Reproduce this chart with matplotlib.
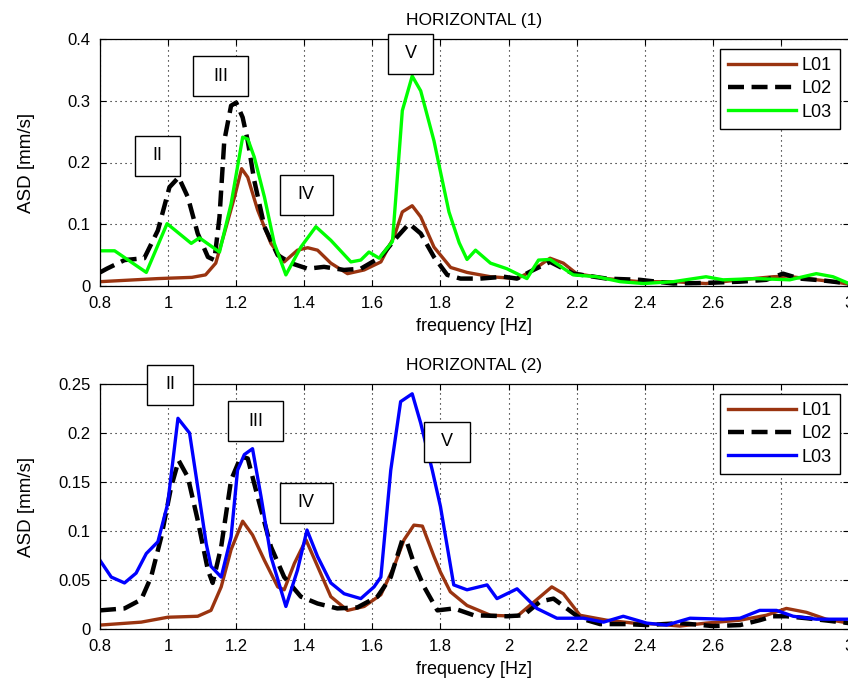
#Librerias
import matplotlib
matplotlib.use('Agg')
import matplotlib.pyplot as plt
from matplotlib.patches import Rectangle
from matplotlib.ticker import FuncFormatter

plt.rcParams['font.family'] = ['Liberation Sans', 'DejaVu Sans']

#Datos - HORIZONTAL (1)
f1_l01 = [0.80, 0.97, 1.07, 1.11, 1.14, 1.165, 1.195, 1.216, 1.234, 1.263, 1.302, 1.341, 1.38, 1.41, 1.439,
          1.478, 1.527, 1.576, 1.625, 1.664, 1.688, 1.717, 1.742, 1.781, 1.83, 1.878, 1.947, 2.025, 2.064,
          2.122, 2.161, 2.2, 2.288, 2.386, 2.484, 2.58, 2.68, 2.777, 2.816, 2.875, 2.953, 3.0]
a1_l01 = [0.007, 0.012, 0.014, 0.018, 0.037, 0.085, 0.144, 0.19, 0.176, 0.123, 0.069, 0.039, 0.058, 0.062, 0.058,
          0.037, 0.02, 0.026, 0.039, 0.08, 0.12, 0.13, 0.112, 0.063, 0.03, 0.022, 0.015, 0.012, 0.023,
          0.045, 0.037, 0.02, 0.012, 0.007, 0.007, 0.004, 0.01, 0.015, 0.016, 0.012, 0.007, 0.003]

f1_l02 = [0.80, 0.82, 0.872, 0.93, 0.97, 1.004, 1.031, 1.058, 1.087, 1.117, 1.136, 1.151, 1.165, 1.185, 1.2,
          1.219, 1.234, 1.253, 1.283, 1.322, 1.361, 1.41, 1.458, 1.517, 1.566, 1.625, 1.664, 1.708, 1.742,
          1.781, 1.82, 1.859, 1.917, 1.986, 2.025, 2.073, 2.122, 2.19, 2.288, 2.386, 2.484, 2.58, 2.68,
          2.757, 2.806, 2.855, 2.923, 3.0]
a1_l02 = [0.022, 0.028, 0.042, 0.045, 0.09, 0.16, 0.176, 0.144, 0.085, 0.047, 0.042, 0.112, 0.235, 0.292, 0.297,
          0.273, 0.235, 0.171, 0.096, 0.05, 0.037, 0.028, 0.031, 0.026, 0.028, 0.047, 0.074, 0.101, 0.085,
          0.047, 0.018, 0.012, 0.012, 0.015, 0.012, 0.026, 0.039, 0.02, 0.012, 0.01, 0.004, 0.005, 0.007,
          0.01, 0.02, 0.012, 0.009, 0.004]

f1_l03 = [0.80, 0.843, 0.936, 0.997, 1.068, 1.092, 1.151, 1.185, 1.209, 1.219, 1.234, 1.253, 1.283, 1.312, 1.346,
          1.39, 1.434, 1.478, 1.537, 1.566, 1.59, 1.62, 1.659, 1.669, 1.688, 1.717, 1.742, 1.781, 1.80, 1.825,
          1.855, 1.878, 1.903, 1.947, 1.995, 2.054, 2.088, 2.122, 2.19, 2.259, 2.328, 2.396, 2.484, 2.58, 2.63,
          2.728, 2.826, 2.904, 2.953, 3.0]
a1_l03 = [0.057, 0.057, 0.022, 0.101, 0.069, 0.078, 0.055, 0.133, 0.209, 0.241, 0.238, 0.209, 0.144, 0.069, 0.018,
          0.063, 0.096, 0.074, 0.039, 0.042, 0.055, 0.045, 0.072, 0.144, 0.284, 0.34, 0.316, 0.235, 0.185, 0.12,
          0.07, 0.043, 0.058, 0.037, 0.028, 0.012, 0.042, 0.043, 0.018, 0.015, 0.007, 0.004, 0.007, 0.015, 0.01,
          0.012, 0.01, 0.02, 0.015, 0.004]

#Datos - HORIZONTAL (2)
f2_l01 = [0.80, 0.921, 0.999, 1.087, 1.126, 1.156, 1.185, 1.219, 1.248, 1.283, 1.322, 1.341, 1.371, 1.405, 1.439,
          1.478, 1.527, 1.576, 1.625, 1.664, 1.693, 1.722, 1.747, 1.781, 1.80, 1.829, 1.878, 1.947, 2.025, 2.083,
          2.127, 2.161, 2.21, 2.288, 2.367, 2.435, 2.503, 2.58, 2.68, 2.757, 2.816, 2.875, 2.933, 3.0]
a2_l01 = [0.004, 0.007, 0.012, 0.013, 0.019, 0.043, 0.081, 0.11, 0.096, 0.07, 0.043, 0.04, 0.067, 0.091, 0.064,
          0.033, 0.019, 0.023, 0.035, 0.064, 0.091, 0.106, 0.105, 0.074, 0.058, 0.038, 0.024, 0.014, 0.013, 0.03,
          0.043, 0.036, 0.014, 0.009, 0.006, 0.005, 0.003, 0.006, 0.009, 0.014, 0.021, 0.017, 0.01, 0.006]

f2_l02 = [0.80, 0.872, 0.921, 0.95, 0.98, 1.009, 1.031, 1.058, 1.087, 1.117, 1.131, 1.156, 1.185, 1.214, 1.234,
          1.263, 1.302, 1.341, 1.39, 1.439, 1.497, 1.556, 1.615, 1.654, 1.688, 1.703, 1.722, 1.752, 1.791, 1.84,
          1.898, 1.995, 2.044, 2.093, 2.132, 2.171, 2.21, 2.269, 2.347, 2.406, 2.503, 2.6, 2.68, 2.738, 2.777,
          2.816, 2.875, 3.0]
a2_l02 = [0.019, 0.021, 0.03, 0.053, 0.094, 0.145, 0.172, 0.155, 0.111, 0.06, 0.047, 0.084, 0.152, 0.176, 0.174,
          0.135, 0.084, 0.053, 0.033, 0.026, 0.021, 0.022, 0.033, 0.053, 0.091, 0.087, 0.067, 0.043, 0.019, 0.021,
          0.014, 0.013, 0.014, 0.028, 0.031, 0.021, 0.011, 0.005, 0.005, 0.004, 0.006, 0.003, 0.004, 0.009, 0.013,
          0.013, 0.011, 0.006]

f2_l03 = [0.80, 0.833, 0.872, 0.906, 0.936, 0.97, 0.999, 1.029, 1.063, 1.087, 1.112, 1.126, 1.156, 1.185, 1.204,
          1.224, 1.248, 1.273, 1.302, 1.346, 1.38, 1.408, 1.439, 1.478, 1.517, 1.566, 1.605, 1.625, 1.654, 1.683,
          1.717, 1.742, 1.776, 1.80, 1.839, 1.878, 1.937, 1.966, 2.025, 2.083, 2.142, 2.22, 2.279, 2.337, 2.406,
          2.464, 2.533, 2.63, 2.68, 2.738, 2.787, 2.836, 2.904, 3.0]
a2_l03 = [0.07, 0.053, 0.047, 0.057, 0.077, 0.089, 0.128, 0.215, 0.2, 0.145, 0.087, 0.064, 0.053, 0.094, 0.162,
          0.178, 0.184, 0.135, 0.074, 0.023, 0.06, 0.101, 0.074, 0.047, 0.036, 0.031, 0.043, 0.053, 0.162, 0.232,
          0.24, 0.21, 0.162, 0.125, 0.045, 0.04, 0.045, 0.031, 0.041, 0.021, 0.011, 0.011, 0.007, 0.013, 0.006,
          0.004, 0.011, 0.01, 0.011, 0.019, 0.019, 0.013, 0.01, 0.01]

#Ejes y etiquetas
x_ticks = [0.8, 1.0, 1.2, 1.4, 1.6, 1.8, 2.0, 2.2, 2.4, 2.6, 2.8, 3.0]
y1_ticks = [0, 0.1, 0.2, 0.3, 0.4]
y2_ticks = [0, 0.05, 0.1, 0.15, 0.2, 0.25]
modos = ['II', 'III', 'IV', 'V']
series = ['L01', 'L02', 'L03']

#Figura
fig = plt.figure(figsize=(8.48, 6.89), dpi=100)
ax1 = fig.add_axes([100/848, (689-286)/689, 749/848, 247/689])
ax2 = fig.add_axes([100/848, (689-629)/689, 749/848, 245/689])

dash = (0, (3.6, 1.7))
ax1.plot(f1_l01, a1_l01, color='#9a3410', lw=2.4, label=series[0])
ax1.plot(f1_l02, a1_l02, color='black', lw=3.2, ls=dash, label=series[1])
ax1.plot(f1_l03, a1_l03, color='#00ff00', lw=2.4, label=series[2])
ax2.plot(f2_l01, a2_l01, color='#9a3410', lw=2.4, label=series[0])
ax2.plot(f2_l02, a2_l02, color='black', lw=3.2, ls=dash, label=series[1])
ax2.plot(f2_l03, a2_l03, color='#0000ff', lw=2.4, label=series[2])


def caja(ax, fc, vc, w_px, h_px, texto, ppx, ppy):
    #dibuja un recuadro blanco con el numero de modo
    w = w_px / ppx
    h = h_px / ppy
    ax.add_patch(Rectangle((fc - w/2, vc - h/2), w, h, facecolor='white', edgecolor='black',
                           lw=1.0, zorder=5, clip_on=False))
    ax.text(fc, vc, texto, ha='center', va='center', fontsize=13, zorder=6, clip_on=False)


for ax, yt, titulo in [(ax1, y1_ticks, 'HORIZONTAL (1)'), (ax2, y2_ticks, 'HORIZONTAL (2)')]:
    ax.set_xlim(0.8, 3.0)
    ax.set_ylim(yt[0], yt[-1])
    ax.set_xticks(x_ticks)
    ax.set_yticks(yt)
    ax.xaxis.set_major_formatter(FuncFormatter(lambda v, p: '%g' % v))
    ax.yaxis.set_major_formatter(FuncFormatter(lambda v, p: '%g' % v))
    ax.tick_params(direction='in', top=True, right=True, length=4, width=0.8, labelsize=12, pad=7)
    ax.grid(True, color='black', ls=(0, (1, 3.5)), lw=0.8)
    ax.set_title(titulo, fontsize=12.5, pad=10)
    ax.set_xlabel('frequency [Hz]', fontsize=13)
    ax.set_ylabel('ASD [mm/s]', fontsize=13.5)
    ax.xaxis.set_label_coords(0.5, -0.13)
    ax.yaxis.set_label_coords(-0.087, 0.5)
    for s in ax.spines.values():
        s.set_linewidth(0.9)
    leg = ax.legend(loc='upper right', bbox_to_anchor=(0.988, 0.96), borderaxespad=0, fontsize=13,
                    fancybox=False, framealpha=1, edgecolor='black', handlelength=3.8,
                    handletextpad=0.3, labelspacing=0.35, borderpad=0.45)
    leg.get_frame().set_linewidth(1.0)
    leg.set_zorder(7)

#Recuadros de modos
ppx = 341.2
for (fc, vc, w, h), t in zip([(0.969, 0.211, 46, 40), (1.154, 0.340, 55, 40),
                               (1.406, 0.148, 53, 40), (1.712, 0.376, 46, 40)], modos):
    caja(ax1, fc, vc, w, h, t, ppx, 620)
for (fc, vc, w, h), t in zip([(1.006, 0.249, 46, 40), (1.257, 0.212, 55, 40),
                               (1.406, 0.129, 53, 40), (1.818, 0.191, 46, 40)], modos):
    caja(ax2, fc, vc, w, h, t, ppx, 980)

fig.savefig('out.png', dpi=100)
